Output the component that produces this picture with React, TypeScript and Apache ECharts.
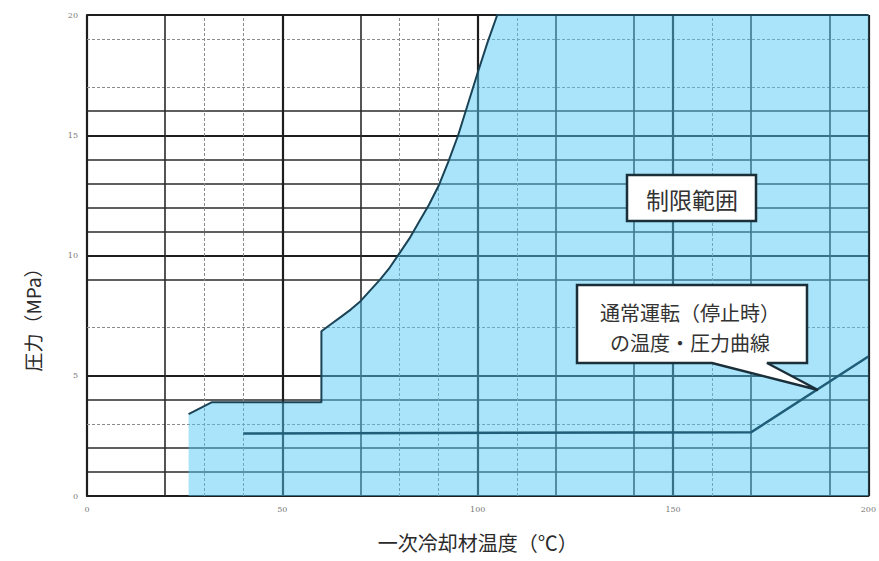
import React, { useEffect, useRef } from "react";
import * as echarts from "echarts";

// Limit boundary (temperature °C, pressure MPa)
const limitTemp = [26, 32, 60, 60, 62.5, 65, 67.5, 70, 72.5, 75, 77.5, 80, 82.5, 85, 87.5, 90, 92.5, 95, 97.5, 100, 102.5, 105, 200];
const limitPress = [3.4, 3.9, 3.9, 6.85, 7.15, 7.45, 7.75, 8.1, 8.55, 9.0, 9.5, 10.1, 10.7, 11.4, 12.1, 12.9, 13.9, 15.0, 16.3, 17.6, 18.85, 20, 20];

// Normal operation (shutdown) temperature-pressure curve
const normalTemp = [40, 170, 200];
const normalPress = [2.6, 2.65, 5.8];

// Grid lines of the chart paper
const hMajor = [5, 10, 15];
const hSolid = [1, 2, 4, 9, 11, 12, 13, 14, 16];
const hFaint = [3, 7, 17, 19];
const vMajor = [50, 100, 150];
const vSolid = [20, 70, 120, 140, 170, 190];
const vFaint = [30, 40, 80, 90, 110, 160];
const borderY = [20];
const borderX = [200];

const xTicks = { min: 0, max: 200, interval: 50 };
const yTicks = { min: 0, max: 20, interval: 5 };

const CJK = '"Noto Sans CJK JP", "Noto Sans", sans-serif';

export default function App() {
  const ref = useRef<HTMLDivElement>(null);

  useEffect(() => {
    if (!ref.current) return;
    const chart = echarts.init(ref.current, undefined, { renderer: "svg" });

    const major = { color: "#1e1e1e", width: 2.2, type: "solid" };
    const solid = { color: "#2a2a2a", width: 1.6, type: "solid" };
    const faint = { color: "#8a8a8a", width: 1, type: [3, 2] };

    const gridLines = [
      ...hMajor.map((v) => ({ yAxis: v, lineStyle: major })),
      ...hSolid.map((v) => ({ yAxis: v, lineStyle: solid })),
      ...hFaint.map((v) => ({ yAxis: v, lineStyle: faint })),
      ...vMajor.map((v) => ({ xAxis: v, lineStyle: major })),
      ...vSolid.map((v) => ({ xAxis: v, lineStyle: solid })),
      ...vFaint.map((v) => ({ xAxis: v, lineStyle: faint })),
      ...borderY.map((v) => ({ yAxis: v, lineStyle: major })),
      ...borderX.map((v) => ({ xAxis: v, lineStyle: major })),
    ];

    chart.setOption({
      animation: false,
      backgroundColor: "#ffffff",
      grid: { left: 87, right: 2, top: 15, bottom: 65 },
      xAxis: {
        type: "value",
        ...xTicks,
        name: "一次冷却材温度（℃）",
        nameLocation: "middle",
        nameGap: 36,
        nameTextStyle: { fontFamily: CJK, fontSize: 20, color: "#2a2a2a" },
        axisLine: { show: true, lineStyle: { color: "#1e1e1e", width: 2.2 } },
        axisTick: { show: false },
        splitLine: { show: false },
        axisLabel: { fontFamily: "DejaVu Serif", fontSize: 8, color: "#777", margin: 9 },
      },
      yAxis: {
        type: "value",
        ...yTicks,
        axisLine: { show: true, lineStyle: { color: "#1e1e1e", width: 2.2 } },
        axisTick: { show: false },
        splitLine: { show: false },
        axisLabel: { fontFamily: "DejaVu Serif", fontSize: 8, color: "#777", margin: 9 },
      },
      series: [
        {
          type: "line",
          z: 1,
          silent: true,
          data: [],
          symbol: "none",
          markLine: {
            z: 1,
            silent: true,
            symbol: "none",
            animation: false,
            label: { show: false },
            data: gridLines,
          },
        },
        {
          type: "line",
          z: 6,
          silent: true,
          symbol: "none",
          data: limitTemp.map((t, i) => [t, limitPress[i]]),
          lineStyle: { color: "#1b4356", width: 2 },
          areaStyle: { color: "rgba(80,200,245,0.49)", opacity: 1 },
        },
        {
          type: "line",
          z: 7,
          silent: true,
          symbol: "none",
          data: normalTemp.map((t, i) => [t, normalPress[i]]),
          lineStyle: { color: "#1f5d78", width: 2.5 },
        },
      ],
      graphic: [
        {
          type: "text",
          x: 32,
          y: 315,
          rotation: Math.PI / 2,
          z: 10,
          style: {
            text: "圧力（MPa）",
            fontFamily: CJK,
            fontSize: 19,
            fill: "#2a2a2a",
            align: "center",
            verticalAlign: "middle",
            textAlign: "center",
            textVerticalAlign: "middle",
          },
        },
        {
          type: "rect",
          z: 10,
          shape: { x: 627, y: 175, width: 129, height: 46 },
          style: { fill: "#ffffff", stroke: "#1b2f3a", lineWidth: 2.5 },
        },
        {
          type: "text",
          z: 11,
          x: 692,
          y: 199,
          style: {
            text: "制限範囲",
            fontFamily: CJK,
            fontSize: 23,
            fill: "#333",
            align: "center",
            verticalAlign: "middle",
            textAlign: "center",
            textVerticalAlign: "middle",
          },
        },
        {
          type: "polygon",
          z: 10,
          shape: {
            points: [
              [577, 285],
              [807, 285],
              [807, 363],
              [767, 363],
              [818, 390],
              [712, 363],
              [577, 363],
            ],
          },
          style: { fill: "#ffffff", stroke: "#1b2f3a", lineWidth: 2.5 },
        },
        {
          type: "text",
          z: 11,
          x: 690,
          y: 327,
          style: {
            text: "通常運転（停止時）\nの温度・圧力曲線",
            fontFamily: CJK,
            fontSize: 20,
            lineHeight: 30,
            fill: "#333",
            align: "center",
            verticalAlign: "middle",
            textAlign: "center",
            textVerticalAlign: "middle",
          },
        },
      ],
    });

    return () => chart.dispose();
  }, []);

  return (
    <div
      ref={ref}
      style={{ position: "fixed", left: 0, top: 0, width: 879, height: 561 }}
    />
  );
}
